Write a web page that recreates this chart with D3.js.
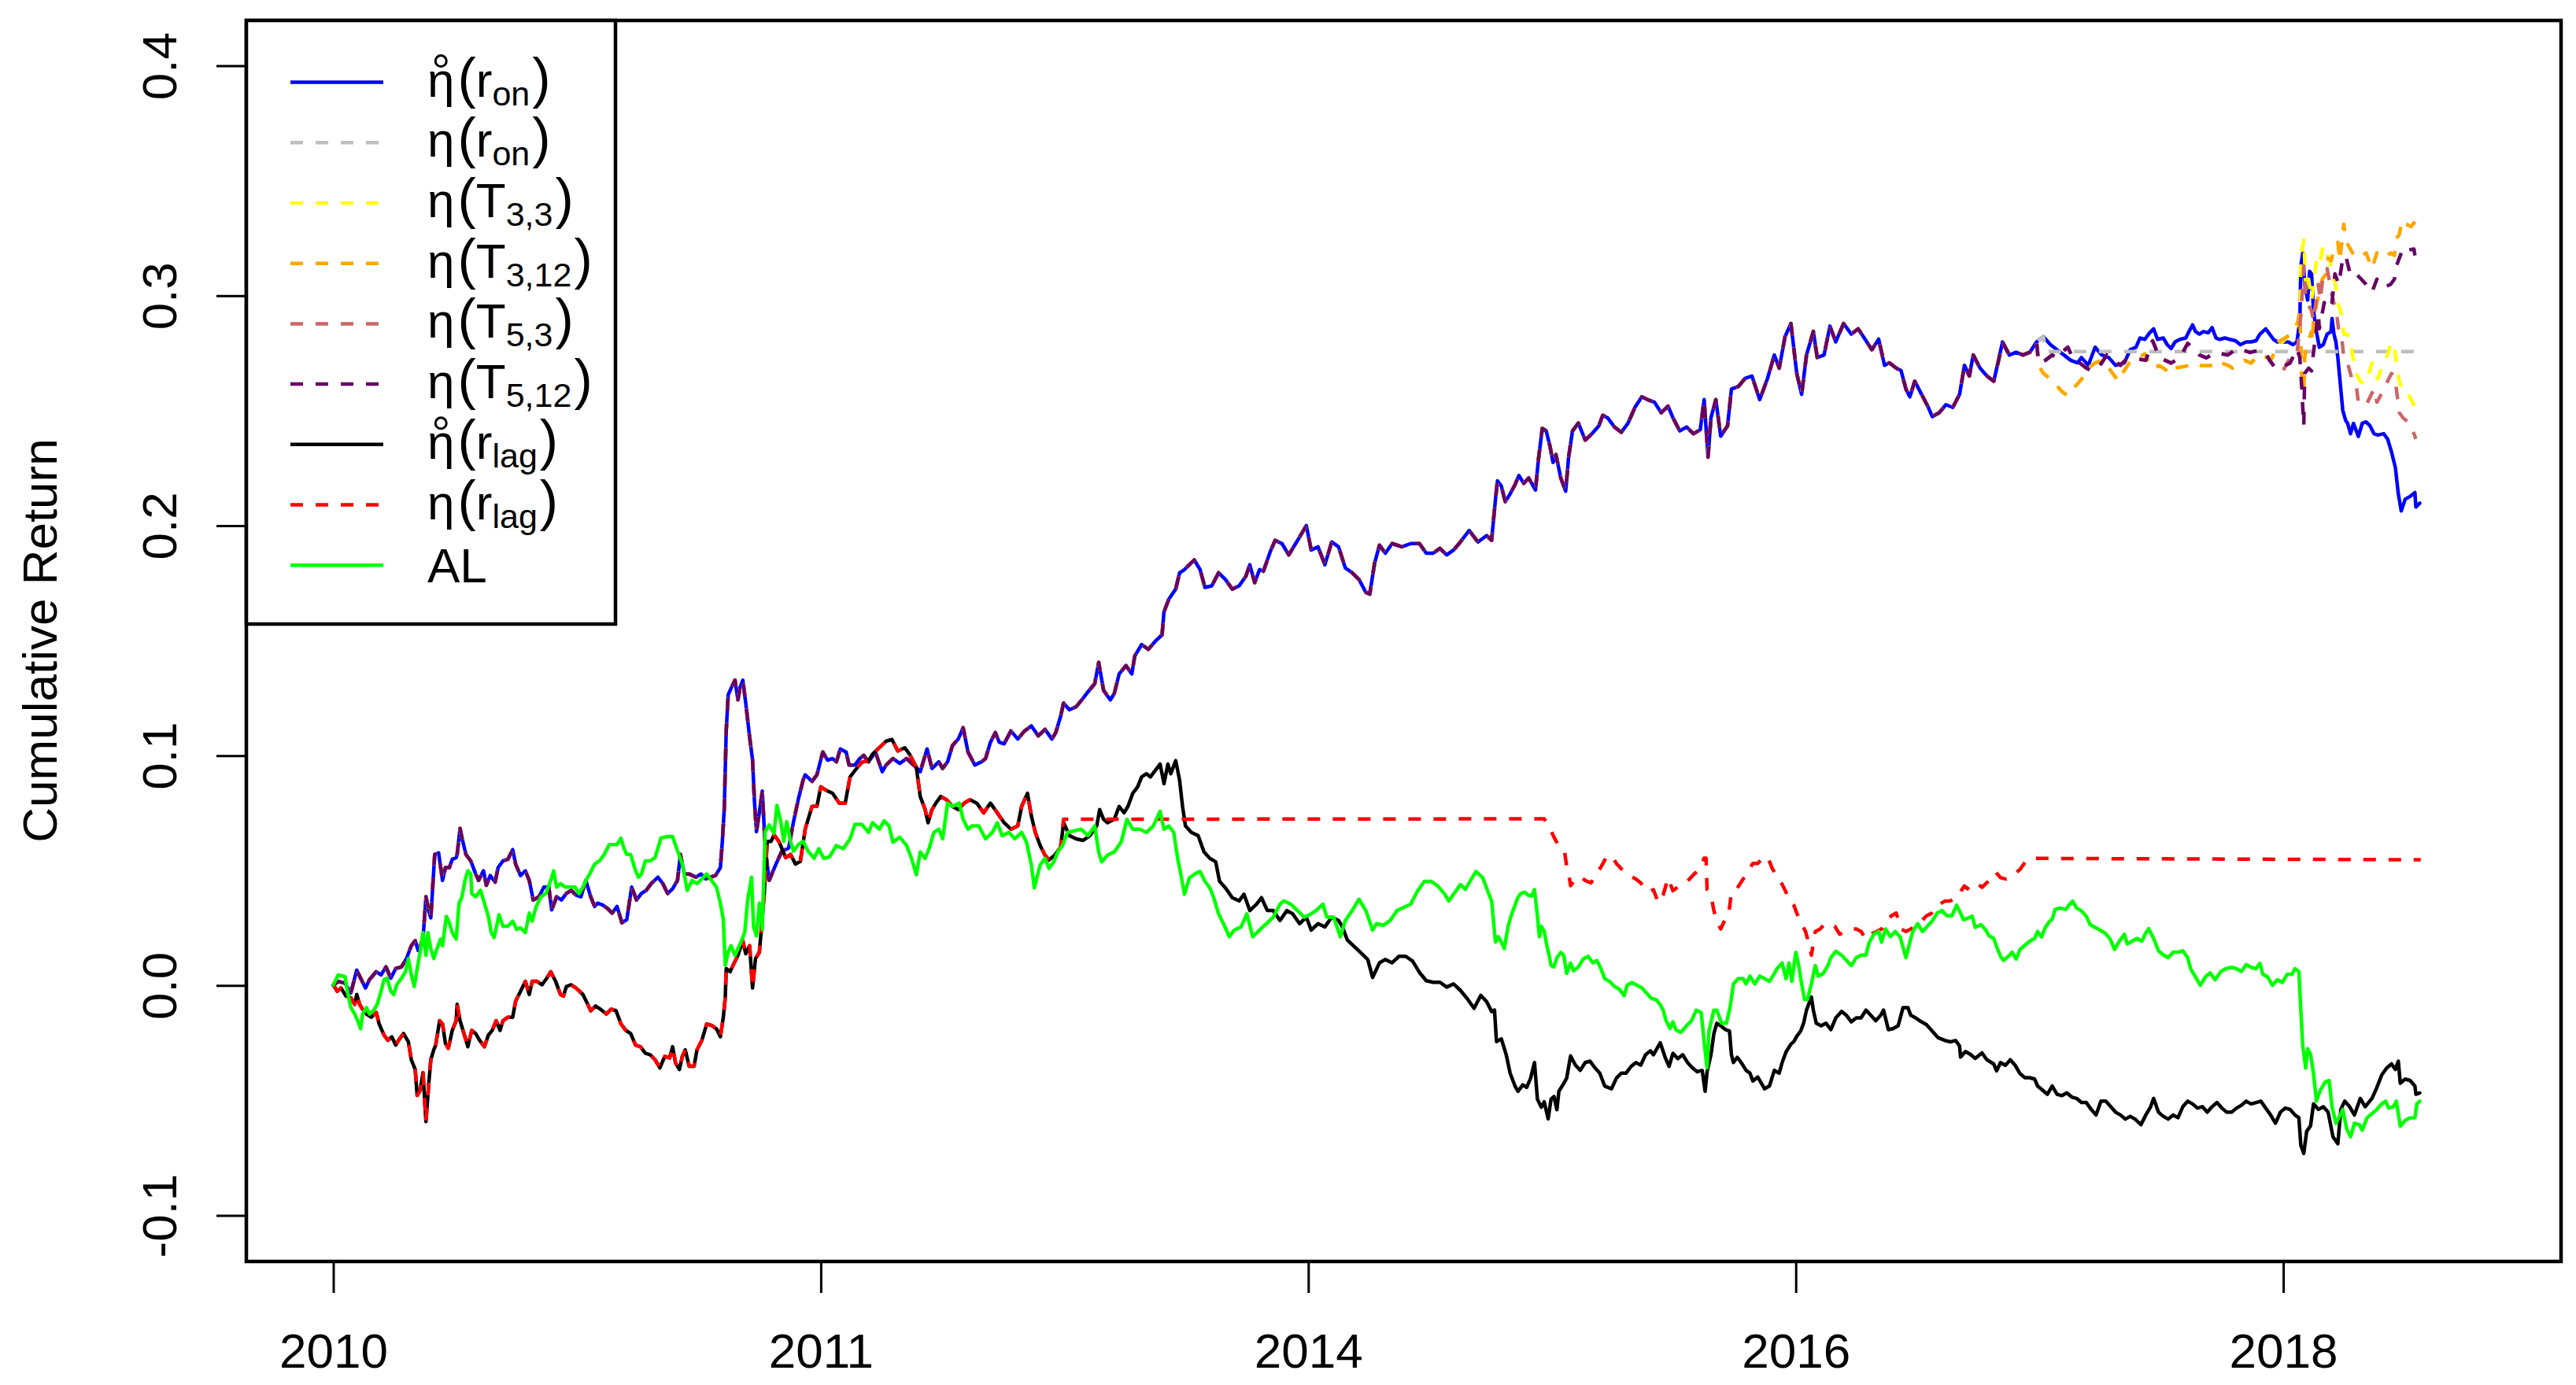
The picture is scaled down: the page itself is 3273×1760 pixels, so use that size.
<!DOCTYPE html>
<html><head><meta charset="utf-8">
<script src="https://cdn.jsdelivr.net/npm/d3@7"></script>
<style>html,body{margin:0;padding:0;background:#fff}</style>
</head><body>
<svg id="chart" width="3273" height="1760"></svg>
<script>
// ---------------- DATA (x = trading-day index, y = cumulative return) ----------------
const xTickIdx = [0, 500, 1000, 1500, 2000];
const xTickLabels = ["2010", "2011", "2014", "2016", "2018"];
const yTicks = [-0.1, 0.0, 0.1, 0.2, 0.3, 0.4];

// ring-eta(r_on)  (blue, solid)
const ringOn = [[0,0.0000],[5,0.0018],[12,0.0010],[18,-0.0032],[24,0.0067],[28,0.0032],[33,-0.0011],[37,0.0025],[44,0.0060],[49,0.0046],[54,0.0081],[59,0.0032],[64,0.0074],[70,0.0081],[75,0.0117],[80,0.0173],[84,0.0195],[87,0.0152],[92,0.0202],[95,0.0386],[98,0.0322],[100,0.0294],[104,0.0570],[108,0.0577],[112,0.0457],[115,0.0513],[119,0.0513],[122,0.0549],[126,0.0556],[127,0.0570],[130,0.0683],[132,0.0641],[136,0.0570],[141,0.0542],[146,0.0485],[149,0.0457],[154,0.0499],[157,0.0436],[161,0.0478],[166,0.0450],[169,0.0513],[174,0.0542],[179,0.0549],[184,0.0591],[187,0.0528],[192,0.0478],[197,0.0499],[201,0.0457],[205,0.0372],[211,0.0386],[216,0.0428],[221,0.0428],[224,0.0329],[229,0.0386],[234,0.0372],[239,0.0400],[244,0.0414],[249,0.0393],[254,0.0386],[259,0.0457],[264,0.0386],[268,0.0344],[271,0.0358],[276,0.0351],[281,0.0336],[286,0.0315],[291,0.0344],[296,0.0273],[301,0.0287],[306,0.0428],[311,0.0372],[316,0.0400],[321,0.0414],[326,0.0443],[333,0.0471],[338,0.0443],[343,0.0400],[348,0.0421],[353,0.0457],[356,0.0570],[360,0.0485],[365,0.0485],[372,0.0471],[377,0.0485],[382,0.0464],[387,0.0471],[392,0.0478],[397,0.0513],[399,0.0627],[401,0.0769],[403,0.1109],[405,0.1264],[408,0.1293],[412,0.1328],[415,0.1243],[417,0.1293],[420,0.1328],[423,0.1229],[427,0.1080],[430,0.0981],[432,0.0797],[434,0.0669],[437,0.0754],[440,0.0846],[443,0.0598],[447,0.0457],[454,0.0528],[460,0.0584],[467,0.0598],[472,0.0712],[477,0.0811],[482,0.0896],
[484,0.0916],[491,0.0888],[496,0.0916],[502,0.1015],[507,0.0980],[512,0.0987],[516,0.0973],[520,0.1029],[526,0.1015],[529,0.0959],[535,0.0959],[540,0.0987],[544,0.1001],[549,0.0973],[556,0.1015],[563,0.0930],[567,0.0959],[574,0.0987],[581,0.0966],[588,0.0987],[595,0.0959],[602,0.0930],[609,0.1029],[614,0.0944],[621,0.0973],[625,0.0944],[630,0.0973],[635,0.1043],[641,0.1072],[646,0.1121],[651,0.1015],[658,0.0959],[665,0.0973],[669,0.0987],[674,0.1058],[679,0.1100],[683,0.1058],[688,0.1051],[695,0.1107],[702,0.1072],[709,0.1107],[716,0.1129],[723,0.1086],[730,0.1114],[737,0.1072],[741,0.1100],[746,0.1171],[749,0.1228],[755,0.1199],[762,0.1213],[769,0.1249],[774,0.1277],[781,0.1313],[785,0.1405],[790,0.1284],[797,0.1242],[801,0.1270],[806,0.1355],[813,0.1391],[819,0.1355],[822,0.1433],[829,0.1483],[836,0.1462],[843,0.1497],[850,0.1525],[852,0.1625],[857,0.1681],[864,0.1724],[868,0.1795],[873,0.1809],[883,0.1851],[889,0.1809],[894,0.1731],[901,0.1738],[908,0.1795],[915,0.1766],[922,0.1724],[929,0.1738],[936,0.1780],[940,0.1830],[945,0.1752],[950,0.1809],[954,0.1802],[961,0.1887],[966,0.1936],[973,0.1922],[980,0.1873],[987,0.1922],[991,0.1950],[998,0.2000],[1003,0.1894],[1010,0.1908],[1017,0.1830],[1024,0.1929],[1031,0.1908],[1038,0.1816],[1045,0.1795],[1052,0.1766],[1059,0.1710],[1063,0.1702],[1068,0.1837],[1073,0.1915],[1079,0.1880],[1086,0.1922],[1096,0.1908],[1105,0.1922],[1114,0.1922],[1121,0.1880],[1128,0.1880],[1135,0.1901],[1142,0.1873],[1149,0.1894],[1156,0.1929],[1165,0.1979],[1174,0.1929],[1183,0.1957],[1188,0.1936],
[1192,0.2115],[1194,0.2195],[1198,0.2172],[1202,0.2104],[1207,0.2138],[1212,0.2178],[1216,0.2218],[1221,0.2184],[1226,0.2207],[1233,0.2155],[1236,0.2286],[1240,0.2423],[1244,0.2412],[1248,0.2343],[1251,0.2275],[1254,0.2309],[1259,0.2207],[1264,0.2150],[1267,0.2298],[1271,0.2412],[1277,0.2446],[1284,0.2372],[1291,0.2400],[1298,0.2434],[1302,0.2480],[1307,0.2469],[1314,0.2429],[1321,0.2406],[1328,0.2446],[1335,0.2514],[1342,0.2560],[1348,0.2548],[1355,0.2537],[1362,0.2491],[1369,0.2520],[1374,0.2469],[1381,0.2412],[1388,0.2429],[1395,0.2400],[1402,0.2417],[1406,0.2548],[1410,0.2298],[1413,0.2469],[1418,0.2548],[1423,0.2389],[1430,0.2434],[1434,0.2594],[1441,0.2605],[1448,0.2640],[1455,0.2651],[1463,0.2548],[1471,0.2640],[1478,0.2742],[1483,0.2685],[1489,0.2822],[1495,0.2879],[1501,0.2662],[1506,0.2571],[1511,0.2742],[1518,0.2845],[1522,0.2731],[1529,0.2742],[1535,0.2868],[1541,0.2799],[1549,0.2879],[1557,0.2833],[1564,0.2856],[1571,0.2811],[1578,0.2765],[1585,0.2811],[1591,0.2697],[1596,0.2708],[1603,0.2685],[1608,0.2674],[1613,0.2594],[1617,0.2560],[1622,0.2628],[1629,0.2571],[1636,0.2514],[1640,0.2474],[1647,0.2491],[1654,0.2526],[1661,0.2514],[1668,0.2571],[1673,0.2697],[1678,0.2651],[1682,0.2742],[1689,0.2685],[1696,0.2651],[1703,0.2628],[1708,0.2719],[1712,0.2799],[1719,0.2742],[1726,0.2754],[1733,0.2742],[1740,0.2754],[1747,0.2799],[1754,0.2822],[1761,0.2788],[1768,0.2765],[1775,0.2742],[1782,0.2719],[1789,0.2708],[1793,0.2731],[1800,0.2697],[1807,0.2776],[1814,0.2742],[1821,0.2731],[1828,0.2697],[1837,0.2708],
[1843,0.2765],[1849,0.2776],[1853,0.2816],[1858,0.2810],[1863,0.2839],[1867,0.2856],[1871,0.2810],[1877,0.2816],[1881,0.2787],[1885,0.2770],[1889,0.2799],[1894,0.2810],[1900,0.2816],[1904,0.2850],[1907,0.2873],[1910,0.2844],[1914,0.2833],[1918,0.2844],[1923,0.2839],[1927,0.2861],[1931,0.2816],[1935,0.2810],[1940,0.2816],[1945,0.2810],[1951,0.2804],[1956,0.2787],[1962,0.2799],[1967,0.2799],[1972,0.2804],[1976,0.2833],[1982,0.2856],[1986,0.2833],[1990,0.2810],[1994,0.2799],[1999,0.2799],[2005,0.2799],[2010,0.2787],[2014,0.2799],[2017,0.2890],[2018,0.3129],[2020,0.3186],[2022,0.3049],[2025,0.2981],[2027,0.3106],[2029,0.3095],[2031,0.2935],[2034,0.2844],[2037,0.2776],[2041,0.2787],[2045,0.2833],[2049,0.2844],[2050,0.2901],[2052,0.2833],[2054,0.2799],[2056,0.2730],[2058,0.2639],[2061,0.2502],[2064,0.2457],[2066,0.2445],[2069,0.2400],[2072,0.2445],[2075,0.2411],[2077,0.2388],[2081,0.2445],[2085,0.2451],[2089,0.2434],[2093,0.2400],[2097,0.2394],[2103,0.2400],[2107,0.2377],[2111,0.2321],[2115,0.2252],[2118,0.2138],[2121,0.2064],[2125,0.2115],[2130,0.2127],[2135,0.2144],[2136,0.2081],[2140,0.2098]];

// eta(r_on) after it separates from ring-eta(r_on)  (grey, dashed)
const etaOnTail = [[1756,0.2757],[2140,0.2757]];

// eta(T_3,12) after it separates  (orange, dashed)
const t312Tail = [[1749,0.2697],[1754,0.2662],[1759,0.2645],[1766,0.2617],[1773,0.2583],[1779,0.2565],[1784,0.2594],[1789,0.2617],[1796,0.2651],[1800,0.2685],[1807,0.2708],[1814,0.2719],[1821,0.2685],[1828,0.2645],[1830,0.2628],[1835,0.2662],[1842,0.2707],[1850,0.2725],[1858,0.2747],[1865,0.2685],[1873,0.2696],[1877,0.2685],[1885,0.2662],[1888,0.2685],[1896,0.2690],[1902,0.2696],[1910,0.2707],[1916,0.2696],[1923,0.2696],[1931,0.2696],[1933,0.2713],[1944,0.2696],[1948,0.2685],[1956,0.2707],[1960,0.2719],[1967,0.2707],[1975,0.2742],[1978,0.2736],[1984,0.2730],[1988,0.2725],[1995,0.2799],[2002,0.2816],[2007,0.2833],[2013,0.2867],[2015,0.2890],[2017,0.2935],[2018,0.2787],[2019,0.2616],[2021,0.2582],[2022,0.2730],[2024,0.2787],[2026,0.2810],[2029,0.2844],[2030,0.2799],[2031,0.2890],[2034,0.2958],[2037,0.3015],[2040,0.3072],[2044,0.3095],[2046,0.3163],[2049,0.3152],[2052,0.3198],[2056,0.3232],[2058,0.3152],[2061,0.3266],[2062,0.3311],[2065,0.3232],[2068,0.3209],[2071,0.3186],[2073,0.3198],[2077,0.3186],[2081,0.3175],[2085,0.3186],[2091,0.3118],[2096,0.3186],[2100,0.3175],[2104,0.3163],[2110,0.3186],[2114,0.3175],[2116,0.3249],[2119,0.3266],[2122,0.3329],[2124,0.3317],[2131,0.3300],[2134,0.3317],[2138,0.3277]];

// eta(T_5,12) after it separates  (purple, dashed)
const t512Tail = [[1749,0.2708],[1756,0.2719],[1763,0.2742],[1768,0.2731],[1773,0.2754],[1779,0.2776],[1784,0.2731],[1791,0.2708],[1798,0.2685],[1803,0.2674],[1807,0.2691],[1812,0.2697],[1819,0.2742],[1826,0.2719],[1833,0.2697],[1838,0.2719],[1850,0.2725],[1859,0.2719],[1866,0.2804],[1873,0.2730],[1885,0.2707],[1894,0.2730],[1902,0.2793],[1909,0.2764],[1914,0.2742],[1921,0.2730],[1931,0.2753],[1943,0.2742],[1953,0.2770],[1966,0.2753],[1976,0.2764],[1983,0.2742],[1986,0.2719],[1992,0.2685],[1999,0.2690],[2007,0.2707],[2014,0.2770],[2017,0.2730],[2019,0.2594],[2021,0.2434],[2022,0.2662],[2026,0.2685],[2029,0.2673],[2031,0.2753],[2034,0.2856],[2036,0.2924],[2037,0.2856],[2042,0.2970],[2046,0.2941],[2050,0.2970],[2053,0.3095],[2057,0.3049],[2061,0.3163],[2064,0.3175],[2068,0.3106],[2072,0.3078],[2076,0.3089],[2080,0.3072],[2085,0.3049],[2091,0.3015],[2096,0.3072],[2100,0.3044],[2104,0.3038],[2110,0.3049],[2114,0.3072],[2116,0.3129],[2119,0.3163],[2123,0.3209],[2127,0.3198],[2134,0.3203],[2135,0.3175]];

// eta(T_3,3) after it leaves eta(T_3,12)  (yellow, dashed)
const t33Tail = [[1999,0.2799],[2009,0.2839],[2017,0.2890],[2018,0.3152],[2021,0.3243],[2022,0.3152],[2023,0.3015],[2026,0.3072],[2029,0.2981],[2031,0.3049],[2034,0.3152],[2037,0.3129],[2041,0.3220],[2045,0.3175],[2048,0.3152],[2050,0.3095],[2053,0.3061],[2056,0.2970],[2060,0.2913],[2062,0.2833],[2065,0.2833],[2068,0.2821],[2071,0.2742],[2075,0.2662],[2079,0.2628],[2083,0.2616],[2087,0.2650],[2091,0.2707],[2095,0.2650],[2097,0.2639],[2101,0.2685],[2105,0.2719],[2111,0.2799],[2114,0.2776],[2116,0.2707],[2119,0.2628],[2123,0.2582],[2127,0.2582],[2134,0.2525],[2135,0.2502]];

// eta(T_5,3) after it leaves eta(T_5,12)  (indian red, dashed)
const t53Tail = [[1999,0.2668],[2007,0.2730],[2014,0.2742],[2018,0.2913],[2020,0.3049],[2021,0.3129],[2023,0.2992],[2026,0.2958],[2029,0.2935],[2031,0.2890],[2034,0.2992],[2036,0.3049],[2038,0.2981],[2041,0.3095],[2045,0.3118],[2048,0.3049],[2050,0.3004],[2053,0.2947],[2055,0.2913],[2057,0.2844],[2060,0.2821],[2062,0.2730],[2066,0.2707],[2071,0.2628],[2075,0.2605],[2077,0.2537],[2081,0.2525],[2085,0.2525],[2089,0.2559],[2093,0.2594],[2096,0.2537],[2099,0.2559],[2103,0.2594],[2107,0.2628],[2111,0.2662],[2114,0.2650],[2116,0.2594],[2119,0.2491],[2123,0.2468],[2128,0.2451],[2134,0.2400],[2136,0.2377]];

// ring-eta(r_lag)  (black, solid)
const ringLag = [[0,0.0003],[4,-0.0025],[8,-0.0011],[13,-0.0046],[18,-0.0053],[22,-0.0082],[24,-0.0039],[27,-0.0082],[30,-0.0103],[34,-0.0124],[39,-0.0138],[44,-0.0117],[47,-0.0167],[52,-0.0216],[56,-0.0238],[60,-0.0223],[64,-0.0259],[67,-0.0238],[72,-0.0209],[77,-0.0245],[80,-0.0323],[84,-0.0365],[86,-0.0478],[89,-0.0457],[92,-0.0379],[95,-0.0592],[98,-0.0422],[100,-0.0323],[103,-0.0280],[105,-0.0259],[109,-0.0153],[112,-0.0167],[115,-0.0252],[118,-0.0273],[122,-0.0195],[126,-0.0153],[127,-0.0082],[130,-0.0153],[132,-0.0181],[135,-0.0223],[138,-0.0266],[142,-0.0195],[146,-0.0209],[150,-0.0238],[155,-0.0266],[159,-0.0216],[163,-0.0195],[167,-0.0153],[171,-0.0195],[174,-0.0153],[179,-0.0138],[184,-0.0138],[187,-0.0068],[192,-0.0025],[197,0.0018],[201,-0.0039],[204,0.0018],[209,0.0018],[214,0.0003],[219,0.0032],[223,0.0060],[228,0.0018],[233,-0.0039],[236,-0.0046],[239,-0.0004],[244,0.0003],[249,-0.0011],[256,-0.0039],[261,-0.0082],[264,-0.0110],[269,-0.0089],[274,-0.0103],[280,-0.0124],[285,-0.0103],[290,-0.0110],[295,-0.0167],[300,-0.0195],[305,-0.0209],[310,-0.0259],[315,-0.0266],[320,-0.0294],[325,-0.0301],[330,-0.0323],[335,-0.0358],[340,-0.0308],[345,-0.0315],[348,-0.0266],[351,-0.0337],[355,-0.0365],[358,-0.0308],[361,-0.0280],[365,-0.0351],[370,-0.0351],[373,-0.0280],[378,-0.0238],[383,-0.0167],[388,-0.0174],[393,-0.0188],[397,-0.0223],[400,-0.0138],[402,-0.0053],[403,0.0074],[407,0.0060],[410,0.0088],[415,0.0131],[420,0.0195],[423,0.0138],[427,0.0173],[430,-0.0011],[433,0.0117],[437,0.0145],[439,0.0244],[442,0.0400],[445,0.0627],[449,0.0627],[452,0.0655],[457,0.0627],[464,0.0556],[469,0.0570],[474,0.0528],[479,0.0540],[484,0.0680],[491,0.0779],[496,0.0779],[500,0.0864],[505,0.0850],[512,0.0836],[519,0.0793],[525,0.0793],[530,0.0907],[535,0.0935],[542,0.0971],[549,0.0978],[553,0.1006],[560,0.1034],[567,0.1063],[573,0.1070],[579,0.1020],[586,0.1034],[591,0.1006],[598,0.0949],[602,0.0822],[607,0.0765],[610,0.0708],[614,0.0765],[618,0.0793],[623,0.0822],[629,0.0808],[635,0.0779],[641,0.0765],[647,0.0793],[653,0.0808],[660,0.0793],[667,0.0751],[674,0.0793],[681,0.0751],[688,0.0708],[695,0.0680],[702,0.0694],[706,0.0779],[712,0.0836],[716,0.0737],[720,0.0666],[725,0.0609],[730,0.0567],[734,0.0546],[740,0.0567],[746,0.0602],[749,0.0708],[755,0.0652],[762,0.0638],[769,0.0631],[776,0.0652],[783,0.0694],[786,0.0765],[790,0.0723],[794,0.0708],[801,0.0723],[806,0.0779],[811,0.0751],[815,0.0779],[820,0.0836],[825,0.0864],[829,0.0907],[834,0.0921],[838,0.0907],[843,0.0935],[848,0.0963],[852,0.0878],[856,0.0963],[859,0.0921],[864,0.0978],[868,0.0893],[871,0.0779],[874,0.0694],[880,0.0666],[887,0.0652],[893,0.0581],[899,0.0553],[905,0.0538],[909,0.0453],[915,0.0425],[922,0.0382],[929,0.0368],[934,0.0397],[940,0.0326],[947,0.0354],[952,0.0382],[958,0.0326],[964,0.0326],[971,0.0283],[978,0.0326],[984,0.0312],[991,0.0269],[998,0.0297],[1003,0.0241],[1010,0.0269],[1017,0.0255],[1024,0.0297],[1031,0.0283],[1035,0.0255],[1040,0.0198],[1047,0.0170],[1054,0.0142],[1061,0.0113],[1066,0.0035],[1073,0.0099],[1079,0.0113],[1086,0.0099],[1093,0.0127],[1100,0.0127],[1107,0.0106],[1114,0.0057],[1121,0.0021],[1128,0.0014],[1135,0.0014],[1142,-0.0007],[1149,0.0007],[1156,-0.0021],[1163,-0.0057],[1170,-0.0099],[1177,-0.0043],[1183,-0.0071],[1188,-0.0113],
[1191,-0.0107],[1193,-0.0244],[1198,-0.0232],[1203,-0.0301],[1207,-0.0381],[1212,-0.0437],[1215,-0.0460],[1220,-0.0432],[1224,-0.0443],[1228,-0.0403],[1232,-0.0335],[1235,-0.0494],[1239,-0.0529],[1242,-0.0506],[1246,-0.0580],[1249,-0.0494],[1252,-0.0483],[1255,-0.0540],[1257,-0.0460],[1262,-0.0426],[1265,-0.0403],[1269,-0.0306],[1274,-0.0346],[1279,-0.0369],[1284,-0.0335],[1289,-0.0329],[1294,-0.0358],[1299,-0.0381],[1304,-0.0437],[1311,-0.0449],[1316,-0.0403],[1321,-0.0381],[1326,-0.0381],[1331,-0.0352],[1336,-0.0335],[1341,-0.0346],[1346,-0.0301],[1351,-0.0284],[1354,-0.0301],[1361,-0.0249],[1366,-0.0312],[1370,-0.0352],[1374,-0.0295],[1379,-0.0318],[1384,-0.0301],[1389,-0.0335],[1394,-0.0358],[1399,-0.0375],[1404,-0.0369],[1407,-0.0460],[1409,-0.0375],[1413,-0.0301],[1416,-0.0209],[1419,-0.0164],[1423,-0.0175],[1428,-0.0192],[1432,-0.0198],[1434,-0.0301],[1436,-0.0335],[1440,-0.0312],[1444,-0.0335],[1449,-0.0369],[1453,-0.0381],[1456,-0.0415],[1461,-0.0398],[1468,-0.0449],[1473,-0.0437],[1478,-0.0369],[1483,-0.0381],[1486,-0.0335],[1490,-0.0289],[1495,-0.0255],[1498,-0.0244],[1501,-0.0221],[1505,-0.0198],[1508,-0.0164],[1511,-0.0107],[1516,-0.0050],[1518,-0.0107],[1521,-0.0164],[1526,-0.0175],[1531,-0.0164],[1536,-0.0192],[1541,-0.0141],[1547,-0.0113],[1552,-0.0130],[1557,-0.0158],[1562,-0.0141],[1567,-0.0141],[1572,-0.0107],[1577,-0.0130],[1582,-0.0153],[1587,-0.0130],[1590,-0.0107],[1595,-0.0192],[1600,-0.0187],[1605,-0.0175],[1610,-0.0096],[1615,-0.0096],[1618,-0.0130],[1623,-0.0141],[1629,-0.0158],[1634,-0.0170],[1641,-0.0203],[1646,-0.0227],[1653,-0.0239],[1659,-0.0245],[1664,-0.0239],[1668,-0.0263],[1669,-0.0311],[1674,-0.0287],[1679,-0.0299],[1684,-0.0317],[1691,-0.0293],[1696,-0.0323],[1703,-0.0341],[1706,-0.0371],[1710,-0.0335],[1715,-0.0347],[1720,-0.0323],[1725,-0.0347],[1730,-0.0383],[1735,-0.0401],[1740,-0.0401],[1745,-0.0407],[1748,-0.0437],[1753,-0.0455],[1758,-0.0473],[1763,-0.0437],[1768,-0.0473],[1773,-0.0479],[1778,-0.0467],[1783,-0.0485],[1788,-0.0491],[1793,-0.0509],[1798,-0.0509],[1803,-0.0539],[1808,-0.0563],[1813,-0.0503],[1818,-0.0503],[1823,-0.0527],[1828,-0.0551],[1833,-0.0563],[1838,-0.0581],[1843,-0.0569],[1848,-0.0581],[1854,-0.0605],[1859,-0.0563],[1864,-0.0527],[1867,-0.0491],[1872,-0.0551],[1877,-0.0569],[1882,-0.0581],[1887,-0.0563],[1892,-0.0575],[1897,-0.0527],[1902,-0.0503],[1907,-0.0515],[1912,-0.0533],[1917,-0.0527],[1922,-0.0551],[1927,-0.0527],[1932,-0.0509],[1937,-0.0533],[1942,-0.0551],[1947,-0.0551],[1952,-0.0533],[1957,-0.0521],[1962,-0.0503],[1967,-0.0515],[1972,-0.0509],[1977,-0.0503],[1982,-0.0533],[1987,-0.0563],[1992,-0.0599],[1997,-0.0551],[2002,-0.0533],[2007,-0.0539],[2012,-0.0563],[2016,-0.0575],[2018,-0.0694],[2021,-0.0730],[2024,-0.0634],[2028,-0.0610],[2031,-0.0515],[2036,-0.0539],[2041,-0.0527],[2046,-0.0551],[2051,-0.0658],[2056,-0.0688],[2059,-0.0539],[2063,-0.0503],[2068,-0.0527],[2073,-0.0563],[2076,-0.0527],[2079,-0.0491],[2084,-0.0527],[2091,-0.0491],[2096,-0.0443],[2101,-0.0389],[2106,-0.0359],[2111,-0.0341],[2115,-0.0365],[2118,-0.0329],[2120,-0.0425],[2125,-0.0407],[2130,-0.0413],[2135,-0.0437],[2136,-0.0473],[2140,-0.0467]];

// eta(r_lag) after it separates from ring-eta(r_lag)  (red, dashed)
const etaLagTail = [[749,0.0723],[1242,0.0725],[1247,0.0691],[1252,0.0645],[1255,0.0622],[1259,0.0588],[1263,0.0577],[1265,0.0520],[1268,0.0463],[1269,0.0434],[1274,0.0463],[1279,0.0474],[1284,0.0457],[1290,0.0446],[1295,0.0486],[1300,0.0514],[1306,0.0560],[1311,0.0565],[1316,0.0531],[1321,0.0508],[1326,0.0497],[1331,0.0474],[1336,0.0463],[1341,0.0446],[1344,0.0429],[1349,0.0406],[1354,0.0417],[1359,0.0360],[1364,0.0394],[1369,0.0468],[1374,0.0412],[1379,0.0429],[1386,0.0440],[1391,0.0463],[1396,0.0486],[1401,0.0503],[1406,0.0554],[1408,0.0554],[1409,0.0417],[1413,0.0394],[1416,0.0326],[1419,0.0280],[1423,0.0246],[1428,0.0292],[1431,0.0303],[1434,0.0406],[1439,0.0417],[1446,0.0463],[1451,0.0497],[1456,0.0531],[1461,0.0531],[1466,0.0554],[1471,0.0560],[1476,0.0508],[1481,0.0474],[1486,0.0440],[1490,0.0406],[1493,0.0372],[1498,0.0349],[1501,0.0315],[1506,0.0269],[1510,0.0235],[1513,0.0189],[1516,0.0132],[1520,0.0235],[1525,0.0246],[1530,0.0269],[1535,0.0269],[1540,0.0258],[1545,0.0223],[1552,0.0235],[1557,0.0246],[1562,0.0246],[1567,0.0235],[1572,0.0201],[1577,0.0223],[1583,0.0235],[1588,0.0246],[1593,0.0280],[1598,0.0303],[1603,0.0315],[1608,0.0246],[1613,0.0235],[1618,0.0246],[1623,0.0258],[1629,0.0280],[1634,0.0303],[1639,0.0313],[1643,0.0343],[1653,0.0367],[1658,0.0367],[1666,0.0385],[1669,0.0409],[1673,0.0433],[1676,0.0421],[1681,0.0445],[1686,0.0445],[1691,0.0427],[1700,0.0463],[1705,0.0493],[1710,0.0469],[1716,0.0463],[1725,0.0487],[1730,0.0505],[1736,0.0541],[1740,0.0553],[2141,0.0547]];

// AL  (green, solid)
const alSeries = [[0,0.0003],[5,0.0046],[12,0.0039],[15,-0.0039],[18,-0.0096],[22,-0.0124],[25,-0.0153],[28,-0.0188],[30,-0.0124],[34,-0.0096],[37,-0.0124],[41,-0.0110],[45,-0.0082],[49,-0.0025],[52,0.0025],[55,0.0032],[59,-0.0025],[62,-0.0039],[65,0.0003],[70,0.0032],[74,0.0060],[77,0.0117],[80,0.0046],[83,-0.0004],[85,0.0046],[89,0.0145],[92,0.0230],[95,0.0131],[97,0.0230],[100,0.0159],[103,0.0117],[105,0.0145],[110,0.0202],[112,0.0173],[116,0.0301],[119,0.0273],[122,0.0230],[126,0.0202],[129,0.0358],[132,0.0386],[135,0.0457],[138,0.0499],[141,0.0485],[142,0.0400],[146,0.0386],[151,0.0414],[155,0.0358],[159,0.0301],[162,0.0230],[165,0.0209],[170,0.0308],[174,0.0258],[179,0.0258],[184,0.0280],[188,0.0244],[192,0.0251],[197,0.0230],[201,0.0315],[204,0.0280],[208,0.0343],[213,0.0386],[218,0.0400],[223,0.0457],[226,0.0499],[229,0.0428],[233,0.0443],[238,0.0428],[243,0.0428],[248,0.0428],[252,0.0400],[256,0.0428],[259,0.0457],[263,0.0485],[268,0.0528],[273,0.0542],[278,0.0570],[283,0.0613],[288,0.0613],[291,0.0613],[295,0.0641],[298,0.0598],[301,0.0570],[305,0.0570],[310,0.0499],[313,0.0471],[316,0.0485],[320,0.0542],[325,0.0542],[330,0.0556],[333,0.0598],[336,0.0641],[343,0.0648],[348,0.0648],[352,0.0598],[355,0.0563],[358,0.0528],[363,0.0414],[368,0.0457],[373,0.0443],[378,0.0464],[383,0.0485],[388,0.0457],[393,0.0428],[397,0.0358],[400,0.0287],[402,0.0088],[405,0.0145],[408,0.0173],[412,0.0131],[415,0.0159],[418,0.0188],[422,0.0230],[425,0.0372],[429,0.0471],[431,0.0258],[434,0.0216],[437,0.0358],[440,0.0244],[441,0.0400],[443,0.0669],[447,0.0698],[452,0.0662],[455,0.0783],[459,0.0712],[462,0.0627],[465,0.0712],[469,0.0627],[472,0.0584],[477,0.0613],[482,0.0627],[487,0.0584],[490,0.0570],
[493,0.0553],[498,0.0595],[503,0.0553],[509,0.0560],[516,0.0609],[523,0.0595],[530,0.0638],[535,0.0701],[542,0.0701],[549,0.0666],[553,0.0708],[560,0.0680],[565,0.0716],[570,0.0694],[574,0.0623],[581,0.0645],[588,0.0609],[593,0.0553],[598,0.0482],[602,0.0581],[607,0.0553],[611,0.0595],[616,0.0666],[621,0.0680],[625,0.0638],[630,0.0793],[635,0.0779],[642,0.0793],[646,0.0723],[651,0.0680],[655,0.0694],[662,0.0694],[669,0.0638],[676,0.0666],[681,0.0708],[686,0.0652],[693,0.0666],[699,0.0638],[706,0.0666],[711,0.0623],[716,0.0524],[719,0.0425],[725,0.0524],[730,0.0553],[734,0.0510],[739,0.0538],[743,0.0581],[748,0.0609],[753,0.0666],[760,0.0673],[767,0.0680],[774,0.0652],[781,0.0694],[785,0.0581],[788,0.0538],[794,0.0567],[801,0.0581],[808,0.0623],[814,0.0723],[820,0.0680],[827,0.0680],[834,0.0666],[841,0.0694],[848,0.0758],[852,0.0680],[857,0.0694],[862,0.0666],[866,0.0553],[870,0.0468],[873,0.0397],[878,0.0468],[885,0.0489],[889,0.0496],[894,0.0453],[899,0.0425],[903,0.0382],[908,0.0312],[913,0.0269],[919,0.0212],[924,0.0241],[931,0.0255],[937,0.0312],[943,0.0212],[950,0.0241],[957,0.0269],[964,0.0297],[971,0.0354],[975,0.0368],[982,0.0354],[989,0.0326],[996,0.0297],[1003,0.0312],[1008,0.0326],[1015,0.0354],[1019,0.0297],[1026,0.0297],[1033,0.0212],[1038,0.0283],[1045,0.0326],[1052,0.0375],[1059,0.0326],[1066,0.0241],[1070,0.0269],[1077,0.0262],[1084,0.0283],[1091,0.0326],[1098,0.0340],[1105,0.0354],[1112,0.0411],[1119,0.0453],[1126,0.0453],[1133,0.0432],[1140,0.0397],[1144,0.0368],[1149,0.0397],[1156,0.0439],[1161,0.0418],[1168,0.0468],[1172,0.0496],[1179,0.0468],[1184,0.0411],[1188,0.0368],
[1192,0.0189],[1195,0.0212],[1198,0.0189],[1201,0.0161],[1205,0.0258],[1208,0.0303],[1212,0.0349],[1215,0.0383],[1218,0.0400],[1222,0.0406],[1225,0.0394],[1229,0.0389],[1232,0.0417],[1235,0.0303],[1237,0.0212],[1239,0.0258],[1242,0.0235],[1245,0.0166],[1247,0.0132],[1249,0.0087],[1252,0.0081],[1255,0.0121],[1259,0.0144],[1262,0.0132],[1265,0.0053],[1269,0.0098],[1272,0.0064],[1277,0.0081],[1282,0.0115],[1287,0.0127],[1292,0.0098],[1296,0.0109],[1300,0.0075],[1304,0.0030],[1309,0.0018],[1314,-0.0004],[1319,-0.0016],[1324,-0.0044],[1327,0.0001],[1332,0.0013],[1337,0.0001],[1342,-0.0010],[1347,-0.0033],[1352,-0.0056],[1357,-0.0062],[1361,-0.0084],[1364,-0.0107],[1367,-0.0153],[1371,-0.0187],[1374,-0.0158],[1377,-0.0192],[1382,-0.0204],[1388,-0.0175],[1393,-0.0153],[1398,-0.0107],[1403,-0.0118],[1406,-0.0244],[1409,-0.0358],[1411,-0.0198],[1416,-0.0107],[1419,-0.0107],[1424,-0.0164],[1429,-0.0164],[1433,-0.0084],[1436,0.0007],[1441,0.0030],[1446,0.0030],[1449,0.0007],[1453,0.0041],[1458,0.0007],[1463,0.0041],[1468,0.0030],[1473,0.0018],[1478,0.0052],[1481,0.0075],[1486,0.0098],[1490,0.0030],[1493,0.0098],[1496,0.0018],[1500,0.0144],[1503,0.0087],[1506,0.0007],[1509,-0.0061],[1512,-0.0061],[1516,0.0007],[1520,0.0087],[1523,0.0041],[1528,0.0052],[1533,0.0087],[1536,0.0121],[1541,0.0149],[1547,0.0132],[1552,0.0109],[1557,0.0087],[1562,0.0121],[1567,0.0132],[1572,0.0132],[1575,0.0184],[1580,0.0223],[1585,0.0235],[1588,0.0189],[1592,0.0246],[1597,0.0212],[1602,0.0235],[1607,0.0212],[1610,0.0166],[1613,0.0121],[1617,0.0189],[1620,0.0235],[1625,0.0269],[1630,0.0235],[1635,0.0258],[1640,0.0281],[1645,0.0315],[1650,0.0326],[1655,0.0303],[1660,0.0303],[1665,0.0349],[1669,0.0315],[1672,0.0286],[1676,0.0292],
[1681,0.0301],[1684,0.0253],[1690,0.0265],[1695,0.0241],[1698,0.0217],[1703,0.0205],[1706,0.0169],[1710,0.0127],[1713,0.0109],[1718,0.0127],[1722,0.0145],[1726,0.0115],[1730,0.0157],[1735,0.0175],[1740,0.0193],[1745,0.0205],[1748,0.0235],[1752,0.0211],[1756,0.0253],[1760,0.0277],[1763,0.0289],[1766,0.0331],[1771,0.0337],[1777,0.0331],[1780,0.0349],[1784,0.0367],[1788,0.0337],[1793,0.0325],[1798,0.0301],[1802,0.0265],[1807,0.0253],[1812,0.0241],[1817,0.0229],[1822,0.0205],[1827,0.0157],[1832,0.0193],[1837,0.0223],[1840,0.0181],[1845,0.0193],[1850,0.0205],[1855,0.0193],[1859,0.0229],[1862,0.0247],[1867,0.0205],[1872,0.0151],[1877,0.0133],[1882,0.0121],[1887,0.0145],[1892,0.0145],[1897,0.0151],[1902,0.0121],[1905,0.0073],[1910,0.0037],[1915,0.0001],[1920,0.0037],[1925,0.0055],[1930,0.0025],[1936,0.0061],[1941,0.0073],[1947,0.0079],[1952,0.0073],[1957,0.0061],[1962,0.0091],[1967,0.0079],[1972,0.0073],[1976,0.0097],[1979,0.0049],[1984,0.0037],[1989,0.0001],[1994,0.0025],[1999,0.0013],[2004,0.0049],[2009,0.0049],[2012,0.0073],[2016,0.0061],[2018,-0.0107],[2020,-0.0263],[2023,-0.0359],[2025,-0.0275],[2028,-0.0299],[2031,-0.0383],[2034,-0.0503],[2038,-0.0455],[2043,-0.0419],[2047,-0.0413],[2050,-0.0527],[2054,-0.0599],[2057,-0.0575],[2061,-0.0539],[2065,-0.0623],[2069,-0.0658],[2073,-0.0599],[2078,-0.0605],[2081,-0.0629],[2086,-0.0575],[2091,-0.0557],[2096,-0.0539],[2101,-0.0515],[2105,-0.0503],[2108,-0.0533],[2113,-0.0527],[2116,-0.0503],[2120,-0.0611],[2125,-0.0587],[2130,-0.0575],[2135,-0.0575],[2137,-0.0515],[2140,-0.0503]];

// legend labels
const legendMain = ["r", "r", "T", "T", "T", "T", "r", "r", "AL"];
const legendSub  = ["on", "on", "3,3", "3,12", "5,3", "5,12", "lag", "lag", ""];
const legendRing = [true, false, false, false, false, false, true, false, false];
const yLabel = "Cumulative Return";

// ---------------- BUILD SERIES (shared history + own tail) ----------------
const upTo = (arr, lim) => arr.filter(d => d[0] < lim);
const sGray   = upTo(ringOn, 1755).concat(etaOnTail);
const sOrange = upTo(ringOn, 1749).concat(t312Tail);
const sYellow = upTo(ringOn, 1749).concat(upTo(t312Tail, 1999), t33Tail);
const sPurple = upTo(ringOn, 1749).concat(t512Tail);
const sRosy   = upTo(ringOn, 1749).concat(upTo(t512Tail, 1999), t53Tail);
const sRed    = upTo(ringLag, 748).concat(etaLagTail);

const DASH = "16,16";
const series = [
  {data: ringOn,   color: "#0000FF", dash: null},
  {data: sGray,    color: "#BEBEBE", dash: DASH},
  {data: sYellow,  color: "#FFFF00", dash: DASH},
  {data: sOrange,  color: "#FFA500", dash: DASH},
  {data: sRosy,    color: "#CD6666", dash: DASH},
  {data: sPurple,  color: "#660066", dash: DASH},
  {data: ringLag,  color: "#000000", dash: null},
  {data: sRed,     color: "#FF0000", dash: DASH},
  {data: alSeries, color: "#00FF00", dash: null}
];

// ---------------- DRAW ----------------
const FONT = "'Liberation Sans', Arial, Helvetica, sans-serif";
const svg = d3.select("#chart");
svg.append("rect").attr("width", 3273).attr("height", 1760).attr("fill", "#fff");

const L = 313, R = 3254, T = 26, B = 1603;
const x = d3.scaleLinear().domain([-89.2, 2284.9]).range([L, R]);
const y = d3.scaleLinear().domain([-0.1200, 0.4197]).range([B, T]);

const line = d3.line().x(d => x(d[0])).y(d => y(d[1]));
const gLines = svg.append("g");
series.forEach(s => {
  gLines.append("path")
    .attr("d", line(s.data))
    .attr("fill", "none")
    .attr("stroke", s.color)
    .attr("stroke-width", 4.5)
    .attr("stroke-linejoin", "round")
    .attr("stroke-linecap", s.dash ? "butt" : "round")
    .attr("stroke-dasharray", s.dash);
});

// axes
const xAxis = d3.axisBottom(x).tickValues(xTickIdx)
  .tickFormat((d, i) => xTickLabels[i]).tickSize(40).tickSizeOuter(0);
const gx = svg.append("g").attr("transform", `translate(0,${B})`).call(xAxis);
gx.select(".domain").remove();
gx.attr("font-size", 62).attr("font-family", FONT);
gx.selectAll(".tick line").attr("stroke", "#000").attr("stroke-width", 3);
gx.selectAll(".tick text").attr("y", 135).attr("dy", null).attr("fill", "#000");

const yAxis = d3.axisLeft(y).tickValues(yTicks)
  .tickFormat(d => d.toFixed(1)).tickSize(38).tickSizeOuter(0);
const gy = svg.append("g").attr("transform", `translate(${L},0)`).call(yAxis);
gy.select(".domain").remove();
gy.attr("font-size", 62).attr("font-family", FONT);
gy.selectAll(".tick line").attr("stroke", "#000").attr("stroke-width", 3);
gy.selectAll(".tick text").attr("x", 0).attr("y", -89).attr("dy", null)
  .attr("transform", "rotate(-90)").attr("text-anchor", "middle").attr("fill", "#000");

// y label
svg.append("text").attr("transform", "translate(72,814) rotate(-90)")
  .attr("text-anchor", "middle").attr("font-size", 62).attr("font-family", FONT)
  .text(yLabel);

// box
svg.append("rect").attr("x", L).attr("y", T).attr("width", R - L).attr("height", B - T)
  .attr("fill", "none").attr("stroke", "#000").attr("stroke-width", 4.5);

// legend
const lg = svg.append("g").attr("font-family", FONT).attr("font-size", 62);
lg.append("rect").attr("x", L).attr("y", T).attr("width", 469).attr("height", 767)
  .attr("fill", "#fff").attr("stroke", "#000").attr("stroke-width", 4.5);
series.forEach((s, i) => {
  const cy = 104.6 + i * 76.7;
  lg.append("line").attr("x1", 369).attr("x2", 487).attr("y1", cy).attr("y2", cy)
    .attr("stroke", s.color).attr("stroke-width", 4.5)
    .attr("stroke-linecap", "butt").attr("stroke-dasharray", s.dash);
  if (legendSub[i] === "") {
    lg.append("text").attr("x", 543).attr("y", cy + 22).text(legendMain[i]);
    return;
  }
  const t = lg.append("text").attr("x", 543).attr("y", cy + 18);
  t.append("tspan").text("η");
  t.append("tspan").attr("font-size", 70).attr("dx", 4).text("(");
  t.append("tspan").text(legendMain[i]);
  t.append("tspan").attr("font-size", 43).attr("dy", 11).text(legendSub[i]);
  t.append("tspan").attr("font-size", 70).attr("dy", -11).attr("dx", 3).text(")");
  if (legendRing[i]) {
    const node = t.node();
    let cx = 560;
    try {
      const a = node.getStartPositionOfChar(0), b = node.getEndPositionOfChar(0);
      cx = (a.x + b.x) / 2;
    } catch (e) {}
    lg.append("circle").attr("cx", cx).attr("cy", cy - 27).attr("r", 7)
      .attr("fill", "none").attr("stroke", "#000").attr("stroke-width", 3);
  }
});
</script>
</body></html>
